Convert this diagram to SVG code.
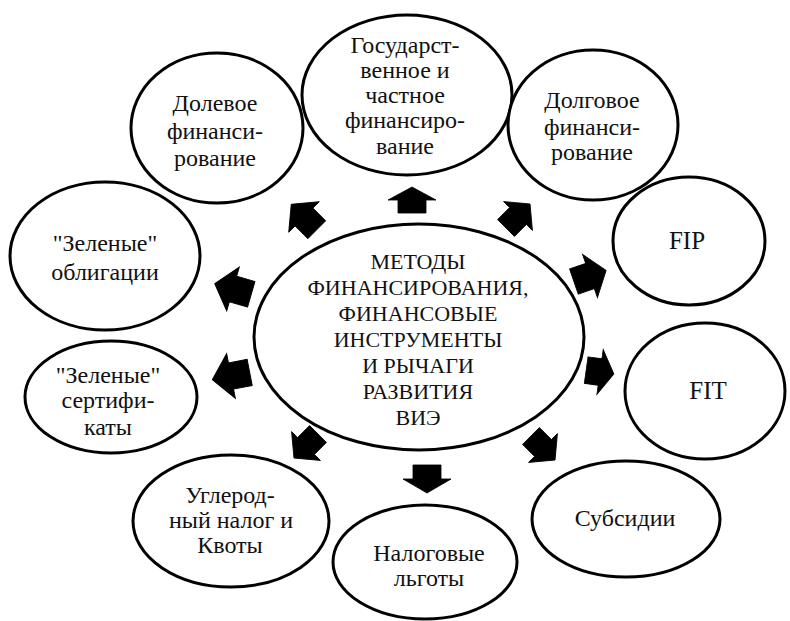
<svg xmlns="http://www.w3.org/2000/svg" width="790" height="621" viewBox="0 0 790 621">
<style>
.n{fill:#fff;stroke:#000;stroke-width:3}
.a{fill:#000;stroke:#000;stroke-width:1}
</style>
<defs>
<path id="arr" d="M-20,-14 L0,-14 L0,-24 L20,0 L0,24 L0,14 L-20,14 Z"/>
</defs>
<rect width="790" height="621" fill="#fff"/>
<g id="connectors">
<use href="#arr" class="a" transform="translate(412,200) rotate(-90) scale(0.65,1)"/>
<use href="#arr" class="a" transform="translate(304,217) rotate(-135) scale(0.9)"/>
<use href="#arr" class="a" transform="translate(518,216) rotate(-45) scale(0.85)"/>
<use href="#arr" class="a" transform="translate(233,289) rotate(-164) scale(0.95,0.95)"/>
<use href="#arr" class="a" transform="translate(231,376) rotate(169) scale(0.95,0.95)"/>
<use href="#arr" class="a" transform="translate(590,276) rotate(-19) scale(0.85,0.95)"/>
<use href="#arr" class="a" transform="translate(600,372) rotate(8) scale(0.7,0.95)"/>
<use href="#arr" class="a" transform="translate(543,448) rotate(45) scale(0.85)"/>
<use href="#arr" class="a" transform="translate(427,479) rotate(90) scale(0.7,1)"/>
<use href="#arr" class="a" transform="translate(306,446) rotate(135) scale(0.85)"/>
</g>
<g id="center">
<ellipse class="n" cx="419" cy="337" rx="165" ry="113"/>
<text font-family="Liberation Serif, serif" font-size="22" text-anchor="middle" fill="#111"><tspan x="418" y="269">МЕТОДЫ</tspan><tspan x="418" y="295">ФИНАНСИРОВАНИЯ,</tspan><tspan x="418" y="321">ФИНАНСОВЫЕ</tspan><tspan x="418" y="347">ИНСТРУМЕНТЫ</tspan><tspan x="418" y="373">И РЫЧАГИ</tspan><tspan x="418" y="399">РАЗВИТИЯ</tspan><tspan x="418" y="425">ВИЭ</tspan></text>
</g>
<g id="gos">
<ellipse class="n" cx="407" cy="95" rx="105" ry="80"/>
<text font-family="Liberation Serif, serif" font-size="24" text-anchor="middle" fill="#111"><tspan x="405" y="53">Государст-</tspan><tspan x="405" y="78">венное и</tspan><tspan x="405" y="103">частное</tspan><tspan x="405" y="128">финансиро-</tspan><tspan x="405" y="154">вание</tspan></text>
</g>
<g id="dolevoe">
<ellipse class="n" cx="217" cy="128" rx="86" ry="75"/>
<text font-family="Liberation Serif, serif" font-size="24" text-anchor="middle" fill="#111"><tspan x="215" y="111">Долевое</tspan><tspan x="215" y="139">финанси-</tspan><tspan x="215" y="166">рование</tspan></text>
</g>
<g id="dolgovoe">
<ellipse class="n" cx="593" cy="125" rx="85" ry="75"/>
<text font-family="Liberation Serif, serif" font-size="24" text-anchor="middle" fill="#111"><tspan x="592" y="108">Долговое</tspan><tspan x="592" y="135">финанси-</tspan><tspan x="592" y="160">рование</tspan></text>
</g>
<g id="fip">
<ellipse class="n" cx="689" cy="241" rx="76" ry="64"/>
<text font-family="Liberation Serif, serif" font-size="25" text-anchor="middle" fill="#111" x="687" y="249">FIP</text>
</g>
<g id="fit">
<ellipse class="n" cx="705" cy="391" rx="80" ry="68"/>
<text font-family="Liberation Serif, serif" font-size="25" text-anchor="middle" fill="#111" x="708" y="399">FIT</text>
</g>
<g id="subsidii">
<ellipse class="n" cx="626" cy="519" rx="94" ry="58"/>
<text font-family="Liberation Serif, serif" font-size="24" text-anchor="middle" fill="#111" x="625" y="526">Субсидии</text>
</g>
<g id="nalogovye">
<ellipse class="n" cx="425" cy="562" rx="92" ry="57"/>
<text font-family="Liberation Serif, serif" font-size="24" text-anchor="middle" fill="#111"><tspan x="429" y="561">Налоговые</tspan><tspan x="429" y="586">льготы</tspan></text>
</g>
<g id="uglerod">
<ellipse class="n" cx="231" cy="521" rx="98" ry="66"/>
<text font-family="Liberation Serif, serif" font-size="24" text-anchor="middle" fill="#111"><tspan x="230" y="503">Углерод-</tspan><tspan x="231" y="528">ный налог и</tspan><tspan x="230" y="553">Квоты</tspan></text>
</g>
<g id="oblig">
<ellipse class="n" cx="105" cy="256" rx="95" ry="74"/>
<text font-family="Liberation Serif, serif" font-size="24" text-anchor="middle" fill="#111"><tspan x="105" y="251">"Зеленые"</tspan><tspan x="105" y="280">облигации</tspan></text>
</g>
<g id="sert">
<ellipse class="n" cx="111" cy="397" rx="86" ry="56"/>
<text font-family="Liberation Serif, serif" font-size="24" text-anchor="middle" fill="#111"><tspan x="108" y="383">"Зеленые"</tspan><tspan x="108" y="408">сертифи-</tspan><tspan x="108" y="435">каты</tspan></text>
</g>
</svg>
